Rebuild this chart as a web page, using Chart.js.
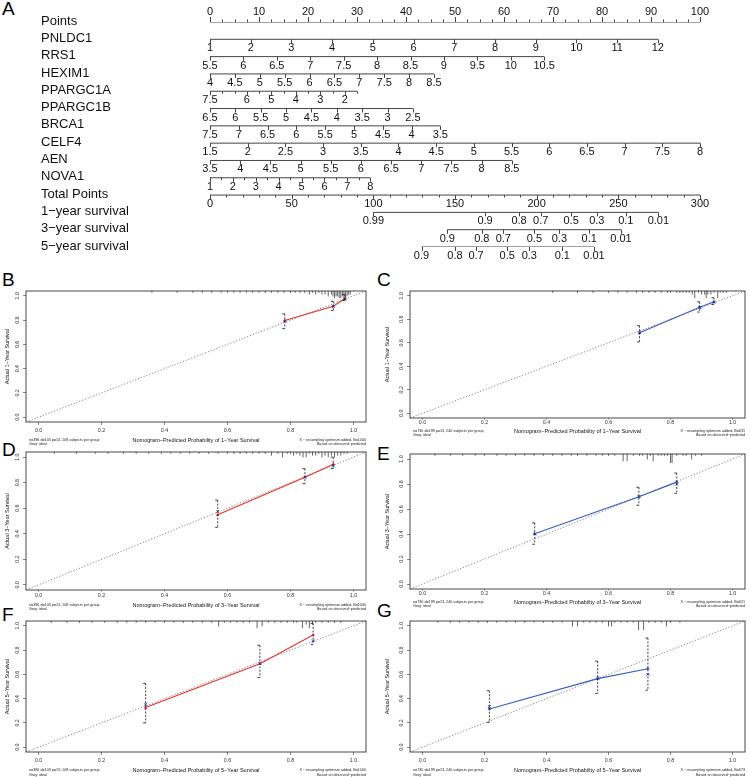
<!DOCTYPE html>
<html>
<head>
<meta charset="utf-8">
<title>Nomogram and calibration curves</title>
<script src="https://cdn.jsdelivr.net/npm/chart.js@4.4.1/dist/chart.umd.min.js"></script>
<style>
  body { margin: 0; width: 750px; height: 777px; overflow: hidden; position: relative; background: #fff;
         font-family: "Liberation Sans", Arial, sans-serif; }
  canvas { position: absolute; }
  .tag { position: absolute; font-size: 19px; line-height: 1; color: #000; }
</style>
</head>
<body>
<div class="tag" style="left:2px;top:-1px">A</div>
<div class="tag" style="left:2px;top:270px">B</div>
<div class="tag" style="left:377px;top:270px">C</div>
<div class="tag" style="left:2px;top:440px">D</div>
<div class="tag" style="left:377px;top:444px">E</div>
<div class="tag" style="left:2px;top:605px">F</div>
<div class="tag" style="left:377px;top:601px">G</div>
<canvas id="nomogram" width="750" height="270" style="left:0;top:0"></canvas>

<script>
// ---------- panel A : nomogram ----------
const pointsTicks = [0, 10, 20, 30, 40, 50, 60, 70, 80, 90, 100];

const geneNames = ["PNLDC1", "RRS1", "HEXIM1", "PPARGC1A", "PPARGC1B", "BRCA1", "CELF4", "AEN", "NOVA1"];
const geneStart = [1, 5.5, 4, 7.5, 6.5, 7.5, 1.5, 3.5, 1];      // value worth 0 points
const geneEnd = [12, 10.5, 8.5, 1.5, 2.5, 3.5, 8, 8.5, 8];       // value at the far end of the row
const geneEndPoints = [91.4, 68.2, 45.7, 30, 41.4, 47, 100, 61.6, 32.7];
const geneStep = [1, 0.5, 0.5, 0.5, 0.5, 0.5, 0.5, 0.5, 0.5];
const geneLabels = [
  [1, 2, 3, 4, 5, 6, 7, 8, 9, 10, 11, 12],
  [5.5, 6, 6.5, 7, 7.5, 8, 8.5, 9, 9.5, 10, 10.5],
  [4, 4.5, 5, 5.5, 6, 6.5, 7, 7.5, 8, 8.5],
  [7.5, 6, 5, 4, 3, 2],
  [6.5, 6, 5.5, 5, 4.5, 4, 3.5, 3, 2.5],
  [7.5, 7, 6.5, 6, 5.5, 5, 4.5, 4, 3.5],
  [1.5, 2, 2.5, 3, 3.5, 4, 4.5, 5, 5.5, 6, 6.5, 7, 7.5, 8],
  [3.5, 4, 4.5, 5, 5.5, 6, 6.5, 7, 7.5, 8, 8.5],
  [1, 2, 3, 4, 5, 6, 7, 8]
];

const totalPointsMax = 300;
const totalTicks = [0, 50, 100, 150, 200, 250, 300];

const survivalNames = ["1\u2212year survival", "3\u2212year survival", "5\u2212year survival"];
const survivalLabels = [
  [0.99, 0.9, 0.8, 0.7, 0.5, 0.3, 0.1, 0.01],
  [0.9, 0.8, 0.7, 0.5, 0.3, 0.1, 0.01],
  [0.9, 0.8, 0.7, 0.5, 0.3, 0.1, 0.01]
];
const survivalTotal = [
  [100, 168.4, 189.2, 202.5, 221.1, 236.8, 254.6, 274.5],
  [145.3, 166.4, 179.6, 198.6, 213.9, 232.2, 251.6],
  [129.5, 150, 162.9, 182, 195.5, 215.7, 235.1]
];

const rowNames = ["Points"].concat(geneNames, ["Total Points"], survivalNames);
const NAME_FONT = '13px "Liberation Sans", Arial, sans-serif';
const TICK_FONT = '11px "Liberation Sans", Arial, sans-serif';

function geneToPoints(g, v) {
  return (v - geneStart[g]) / (geneEnd[g] - geneStart[g]) * geneEndPoints[g];
}
function totalToPoints(t) {
  return t / totalPointsMax * 100;
}

// one horizontal line per row of the nomogram
const nomoDatasets = [];
function rowLine(row, from, to) {
  nomoDatasets.push({
    data: [{ x: from, y: row }, { x: to, y: row }],
    showLine: true, borderColor: "#444", borderWidth: 1, pointRadius: 0
  });
}
rowLine(0, 0, 100);
geneNames.forEach((n, g) => rowLine(g + 1, 0, geneEndPoints[g]));
rowLine(10, 0, 100);
survivalTotal.forEach((t, s) => rowLine(11 + s, totalToPoints(t[0]), totalToPoints(t[t.length - 1])));

const nomogramAxes = {
  id: "nomogramAxes",
  afterDatasetsDraw(chart) {
    const { ctx } = chart;
    const xs = chart.scales.x, ys = chart.scales.y;
    const tick = (p, row, len) => {
      const xp = Math.round(xs.getPixelForValue(p)) + 0.5;
      const yp = ys.getPixelForValue(row);
      ctx.beginPath(); ctx.moveTo(xp, yp); ctx.lineTo(xp, yp + len); ctx.stroke();
    };
    const label = (p, row, dy, txt) => {
      ctx.fillText(txt, xs.getPixelForValue(p), ys.getPixelForValue(row) + dy);
    };
    ctx.save();
    ctx.strokeStyle = "#444";
    ctx.lineWidth = 1;
    ctx.fillStyle = "#111";

    ctx.font = NAME_FONT;
    ctx.textAlign = "left";
    ctx.textBaseline = "middle";
    rowNames.forEach((n, i) => ctx.fillText(n, 41, ys.getPixelForValue(i) - 1));

    ctx.font = TICK_FONT;
    ctx.textAlign = "center";

    // Points axis: ticks up, labels above
    for (let k = 0; k <= 40; k++) tick(k * 2.5, 0, k % 4 === 0 ? -5 : -2.5);
    pointsTicks.forEach(v => label(v, 0, -10, String(v)));

    // gene rows: ticks down, labels below
    geneNames.forEach((n, g) => {
      const row = g + 1;
      const dir = geneEnd[g] > geneStart[g] ? 1 : -1;
      const count = Math.round(Math.abs(geneEnd[g] - geneStart[g]) / geneStep[g]);
      for (let k = 0; k <= count; k++) {
        const v = geneStart[g] + dir * k * geneStep[g];
        const labelled = geneLabels[g].some(l => Math.abs(l - v) < 1e-6);
        tick(geneToPoints(g, v), row, labelled ? 4 : 2.5);
      }
      geneLabels[g].forEach(v => label(geneToPoints(g, v), row, 9, String(v)));
    });

    // Total points
    for (let t = 0; t <= totalPointsMax; t += 10) tick(totalToPoints(t), 10, t % 50 === 0 ? 4 : 2.5);
    totalTicks.forEach(t => label(totalToPoints(t), 10, 9, String(t)));

    // survival rows
    survivalTotal.forEach((arr, s) => {
      arr.forEach((t, k) => {
        tick(totalToPoints(t), 11 + s, 4);
        label(totalToPoints(t), 11 + s, 9, String(survivalLabels[s][k]));
      });
    });
    ctx.restore();
  }
};

new Chart(document.getElementById("nomogram"), {
  type: "scatter",
  data: { datasets: nomoDatasets },
  options: {
    responsive: false,
    animation: false,
    layout: { padding: { left: 210, right: 50, top: 22, bottom: 23 } },
    scales: {
      x: { type: "linear", min: 0, max: 100, display: false },
      y: { type: "linear", min: 0, max: 13, reverse: true, display: false }
    },
    plugins: { legend: { display: false }, tooltip: { enabled: false } }
  },
  plugins: [nomogramAxes]
});

// ---------- panels B-G : calibration curves ----------
const calTicks = [0, 0.2, 0.4, 0.6, 0.8, 1.0];
const axisRange = [-0.04, 1.04];

// B: 1-year, training
const predB = [0.782, 0.936, 0.973];
const obsB = [0.797, 0.915, 0.978];
const corrB = [0.79, 0.912, 0.972];
const loB = [0.73, 0.88, 0.961];
const hiB = [0.852, 0.956, 1.01];
const rugBx = [0.36, 0.44, 0.49, 0.52, 0.55, 0.58, 0.6, 0.62, 0.64, 0.66, 0.68, 0.7, 0.72, 0.74, 0.76, 0.78, 0.8, 0.815, 0.83, 0.845,
               0.86, 0.87, 0.88, 0.89, 0.9, 0.91, 0.92, 0.93, 0.935, 0.94, 0.945, 0.95, 0.955, 0.96, 0.965, 0.97, 0.975, 0.98, 0.985, 0.99];
const rugBn = [1, 1, 1, 1, 1, 1, 1, 1, 1, 1, 1, 1, 1, 1, 1, 1, 1, 1, 1, 1,
               2, 1, 2, 1, 2, 2, 3, 2, 3, 4, 3, 3, 4, 4, 3, 5, 4, 3, 2, 2];

// C: 1-year, validation
const predC = [0.70, 0.894, 0.94];
const obsC = [0.685, 0.901, 0.948];
const corrC = [0.685, 0.90, 0.945];
const loC = [0.607, 0.861, 0.925];
const hiC = [0.745, 0.948, 0.983];
const rugCx = [0.42, 0.5, 0.55, 0.6, 0.63, 0.66, 0.69, 0.71, 0.73, 0.75, 0.77, 0.79, 0.8, 0.82, 0.83, 0.84,
               0.85, 0.86, 0.87, 0.878, 0.89, 0.9, 0.91, 0.915, 0.92, 0.93, 0.94, 0.952, 0.96, 0.97, 0.98];
const rugCn = [1, 1, 1, 1, 1, 1, 1, 1, 1, 1, 1, 1, 1, 1, 1, 1,
               1, 1, 2, 4, 1, 2, 2, 4, 2, 2, 1, 4, 1, 1, 1];

// D: 3-year, training
const predD = [0.569, 0.846, 0.936];
const obsD = [0.548, 0.843, 0.945];
const corrD = [0.575, 0.843, 0.93];
const loD = [0.45, 0.792, 0.91];
const hiD = [0.663, 0.91, 1.0];
const rugDx = [0.05, 0.12, 0.18, 0.22, 0.27, 0.31, 0.35, 0.39, 0.42, 0.45, 0.48, 0.51, 0.54, 0.57, 0.6, 0.62, 0.64, 0.66, 0.68, 0.7,
               0.72, 0.74, 0.76, 0.775, 0.79, 0.8, 0.81, 0.82, 0.83, 0.84, 0.85, 0.86, 0.87, 0.88, 0.89, 0.9, 0.91, 0.92, 0.93, 0.94,
               0.95, 0.96, 0.97, 0.98];
const rugDn = [1, 1, 1, 1, 1, 1, 1, 1, 1, 1, 1, 1, 1, 1, 1, 1, 1, 1, 1, 1,
               1, 2, 1, 3, 1, 1, 2, 1, 2, 3, 3, 1, 2, 2, 1, 3, 2, 3, 2, 3,
               2, 2, 1, 1];

// E: 3-year, validation
const predE = [0.362, 0.698, 0.82];
const obsE = [0.402, 0.698, 0.815];
const corrE = [0.40, 0.698, 0.80];
const loE = [0.318, 0.63, 0.725];
const hiE = [0.489, 0.774, 0.888];
const rugEx = [0.04, 0.09, 0.13, 0.17, 0.2, 0.24, 0.27, 0.3, 0.33, 0.36, 0.39, 0.42, 0.45, 0.48, 0.5, 0.53, 0.56, 0.58, 0.6, 0.62,
               0.647, 0.66, 0.68, 0.7, 0.71, 0.725, 0.735, 0.744, 0.76, 0.77, 0.78, 0.79, 0.8, 0.805, 0.82, 0.84, 0.85, 0.868, 0.88, 0.9];
const rugEn = [1, 1, 1, 1, 1, 1, 1, 1, 1, 1, 1, 1, 1, 1, 1, 1, 1, 1, 1, 1,
               4, 4, 1, 1, 1, 3, 1, 4, 1, 1, 1, 1, 5, 5, 1, 1, 1, 3, 1, 1];

// F: 5-year, training
const predF = [0.34, 0.703, 0.872];
const obsF = [0.326, 0.688, 0.924];
const corrF = [0.354, 0.688, 0.877];
const loF = [0.2, 0.574, 0.845];
const hiF = [0.525, 0.84, 1.02];
const rugFx = [0.04, 0.09, 0.13, 0.17, 0.21, 0.25, 0.28, 0.31, 0.34, 0.37, 0.4, 0.43, 0.46, 0.49, 0.52, 0.55, 0.572, 0.59, 0.61, 0.63,
               0.65, 0.67, 0.694, 0.71, 0.73, 0.75, 0.77, 0.79, 0.81, 0.82, 0.838, 0.85, 0.86, 0.87, 0.88, 0.9, 0.92, 0.94, 0.96];
const rugFn = [1, 1, 1, 1, 1, 1, 1, 1, 1, 1, 1, 1, 1, 1, 1, 1, 3, 1, 1, 1,
               1, 1, 4, 3, 1, 1, 1, 1, 1, 1, 4, 2, 4, 2, 1, 1, 1, 1, 1];

// G: 5-year, validation
const predG = [0.216, 0.565, 0.727];
const obsG = [0.315, 0.565, 0.647];
const corrG = [0.334, 0.57, 0.60];
const loG = [0.204, 0.443, 0.47];
const hiG = [0.465, 0.709, 0.90];
const rugGx = [0.05, 0.09, 0.12, 0.15, 0.18, 0.21, 0.24, 0.27, 0.3, 0.33, 0.36, 0.39, 0.42, 0.45, 0.484, 0.5, 0.52, 0.54, 0.56, 0.58,
               0.6, 0.61, 0.62, 0.64, 0.66, 0.68, 0.697, 0.713, 0.73, 0.75, 0.77, 0.787, 0.8, 0.83];
const rugGn = [1, 1, 1, 1, 1, 1, 1, 1, 1, 1, 1, 1, 1, 1, 3, 3, 1, 1, 1, 1,
               3, 3, 1, 1, 1, 1, 5, 5, 1, 1, 1, 3, 1, 1];

const trainNote = ["n=396 d=103 p=13, 108 subjects per group", "Gray: ideal"];
const validNote = ["n=730 d=199 p=13, 240 subjects per group", "Gray: ideal"];

const RED = "#e5332a";
const BLUE = "#3a5bc2";
const XMARK = "#2e4fc0";

const panels = [
  { left: 0,   box: [26, 291, 366, 422],  yW: 22, xTick: 3,   xPad: 2.3, titleGap: 18,   year: 1, color: RED,
    pred: predB, obs: obsB, corr: corrB, lo: loB, hi: hiB, rugX: rugBx, rugN: rugBn, note: trainNote, B: 1000 },
  { left: 375, box: [410, 291, 746, 418], yW: 26, xTick: 1.5, xPad: 0,   titleGap: 13,   year: 1, color: BLUE,
    pred: predC, obs: obsC, corr: corrC, lo: loC, hi: hiC, rugX: rugCx, rugN: rugCn, note: validNote, B: 631 },
  { left: 0,   box: [26, 452, 366, 590],  yW: 22, xTick: 1.5, xPad: 0.5, titleGap: 15,   year: 3, color: RED,
    pred: predD, obs: obsD, corr: corrD, lo: loD, hi: hiD, rugX: rugDx, rugN: rugDn, note: trainNote, B: 1000 },
  { left: 375, box: [410, 454, 746, 589], yW: 26, xTick: 1.5, xPad: 0,   titleGap: 13,   year: 3, color: BLUE,
    pred: predE, obs: obsE, corr: corrE, lo: loE, hi: hiE, rugX: rugEx, rugN: rugEn, note: validNote, B: 621 },
  { left: 0,   box: [26, 621, 366, 752],  yW: 22, xTick: 3,   xPad: 2.3, titleGap: 18.3, year: 5, color: RED,
    pred: predF, obs: obsF, corr: corrF, lo: loF, hi: hiF, rugX: rugFx, rugN: rugFn, note: trainNote, B: 1000 },
  { left: 375, box: [410, 621, 746, 752], yW: 26, xTick: 3,   xPad: 2.3, titleGap: 18.3, year: 5, color: BLUE,
    pred: predG, obs: obsG, corr: corrG, lo: loG, hi: hiG, rugX: rugGx, rugN: rugGn, note: validNote, B: 673 }
];

const calExtras = {
  id: "calExtras",
  afterDraw(chart, args, opts) {
    const { ctx, chartArea: a } = chart;
    const xs = chart.scales.x, ys = chart.scales.y;
    const p = opts.panel;
    ctx.save();

    // rug of predicted risks along the top edge
    ctx.strokeStyle = "#222";
    ctx.lineWidth = 0.7;
    p.rugX.forEach((v, i) => {
      const xp = xs.getPixelForValue(v);
      ctx.beginPath(); ctx.moveTo(xp, a.top); ctx.lineTo(xp, a.top + 1.8 * (p.rugN[i] || 1)); ctx.stroke();
    });

    // error bars, dashed with left serifs
    ctx.strokeStyle = "#111";
    ctx.lineWidth = 0.8;
    p.pred.forEach((v, i) => {
      const xp = xs.getPixelForValue(v);
      const yt = ys.getPixelForValue(p.hi[i]);
      const yb = ys.getPixelForValue(p.lo[i]);
      ctx.setLineDash([2, 1.5]);
      ctx.beginPath(); ctx.moveTo(xp, yt); ctx.lineTo(xp, yb); ctx.stroke();
      ctx.setLineDash([]);
      ctx.beginPath();
      ctx.moveTo(xp - 2.5, yt); ctx.lineTo(xp, yt);
      ctx.moveTo(xp - 2.5, yb); ctx.lineTo(xp, yb);
      ctx.stroke();
    });

    // frame
    ctx.strokeStyle = "#333";
    ctx.lineWidth = 0.9;
    ctx.strokeRect(a.left, a.top, a.right - a.left, a.bottom - a.top);

    // notes under the plot
    ctx.fillStyle = "#222";
    ctx.font = '3.7px "Liberation Sans", Arial, sans-serif';
    ctx.textBaseline = "middle";
    const y1 = a.bottom + p.titleGap, y2 = y1 + 4.4;
    ctx.textAlign = "left";
    ctx.fillText(p.note[0], a.left + 3, y1);
    ctx.fillText(p.note[1], a.left + 3, y2);
    ctx.textAlign = "right";
    ctx.fillText("X \u2212 resampling optimism added, B=" + p.B, a.right, y1);
    ctx.fillText("Based on observed\u2212predicted", a.right, y2);
    ctx.restore();
  }
};

function makeCalibration(p) {
  const [bl, bt, br, bb] = p.box;
  const top = bt - 8;
  const height = Math.round(bb + p.titleGap + 10 - top);
  const xH = p.titleGap + 3.3;
  const canvas = document.createElement("canvas");
  canvas.width = 375;
  canvas.height = height;
  canvas.style.left = p.left + "px";
  canvas.style.top = top + "px";
  document.body.appendChild(canvas);

  const tickFont = { family: '"Liberation Sans", Arial, sans-serif', size: 5.3 };
  const titleFont = { family: '"Liberation Sans", Arial, sans-serif', size: 5.5 };
  const setTicks = s => { s.ticks = calTicks.map(v => ({ value: v })); };

  new Chart(canvas, {
    type: "scatter",
    data: {
      datasets: [
        { // bias-corrected estimates
          data: p.pred.map((v, i) => ({ x: v, y: p.corr[i] })),
          pointStyle: "crossRot", pointRadius: 2, borderColor: XMARK, borderWidth: 1
        },
        { // apparent calibration
          data: p.pred.map((v, i) => ({ x: v, y: p.obs[i] })),
          showLine: true, borderColor: p.color, borderWidth: 1.1,
          pointStyle: "triangle", pointRadius: 1.6, pointBackgroundColor: p.color, pointBorderColor: p.color, pointBorderWidth: 0.5
        },
        { // ideal
          data: axisRange.map(v => ({ x: v, y: v })),
          showLine: true, borderColor: "#777", borderWidth: 0.9, borderDash: [1.2, 1.8], pointRadius: 0
        }
      ]
    },
    options: {
      responsive: false,
      animation: false,
      layout: { padding: { left: bl - p.left - p.yW, right: p.left + 375 - br, top: 8, bottom: height - (bb - top) - xH } },
      scales: {
        x: {
          type: "linear", min: axisRange[0], max: axisRange[1],
          afterBuildTicks: setTicks,
          afterFit: s => { s.height = xH; },
          grid: { drawOnChartArea: false, tickLength: p.xTick, color: "#333", lineWidth: 0.6 },
          border: { display: false },
          ticks: { autoSkip: false, maxRotation: 0, padding: p.xPad, font: tickFont, color: "#333", callback: v => v.toFixed(1) },
          title: { display: true, text: "Nomogram\u2212Predicted Probability of " + p.year + "\u2212Year Survival",
                   font: titleFont, color: "#111", padding: 0 }
        },
        y: {
          type: "linear", min: axisRange[0], max: axisRange[1],
          afterBuildTicks: setTicks,
          afterFit: s => { s.width = p.yW; },
          grid: { drawOnChartArea: false, tickLength: 3, color: "#333", lineWidth: 0.6 },
          border: { display: false },
          ticks: { autoSkip: false, minRotation: 90, maxRotation: 90, crossAlign: "center", padding: 2,
                   font: tickFont, color: "#333", callback: v => v.toFixed(1) },
          title: { display: true, text: "Actual " + p.year + "\u2212Year Survival", font: titleFont, color: "#111", padding: 0 }
        }
      },
      plugins: { legend: { display: false }, tooltip: { enabled: false }, calExtras: { panel: p } }
    },
    plugins: [calExtras]
  });
}

panels.forEach(makeCalibration);
</script>
</body>
</html>
